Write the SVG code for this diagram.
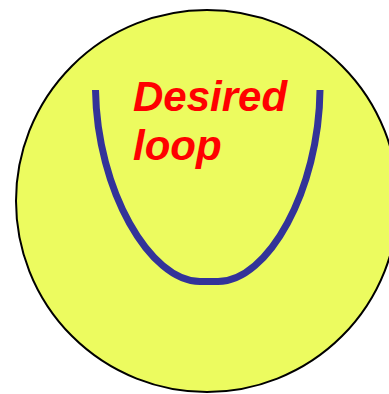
<svg xmlns="http://www.w3.org/2000/svg" width="389" height="394" viewBox="0 0 389 394">
<style>
.lbl{font-family:"Liberation Sans",Arial,sans-serif;font-weight:bold;font-style:italic;font-size:42px;fill:#FF0000}
</style>
<rect width="389" height="394" fill="#FFFFFF"/>
<g id="region">
<circle cx="207" cy="201" r="191" fill="#ECFB5F" stroke="#000000" stroke-width="2"/>
</g>
<g id="loop">
<path d="M95.5,90 C97,190 150,281.5 200,281.5 L218,281.5 C268,281.5 319,190 320,90" fill="none" stroke="#333399" stroke-width="7"/>
</g>
<g id="label">
<text class="lbl" x="133" y="111">Desired</text>
<text class="lbl" x="133" y="160">loop</text>
</g>
</svg>
